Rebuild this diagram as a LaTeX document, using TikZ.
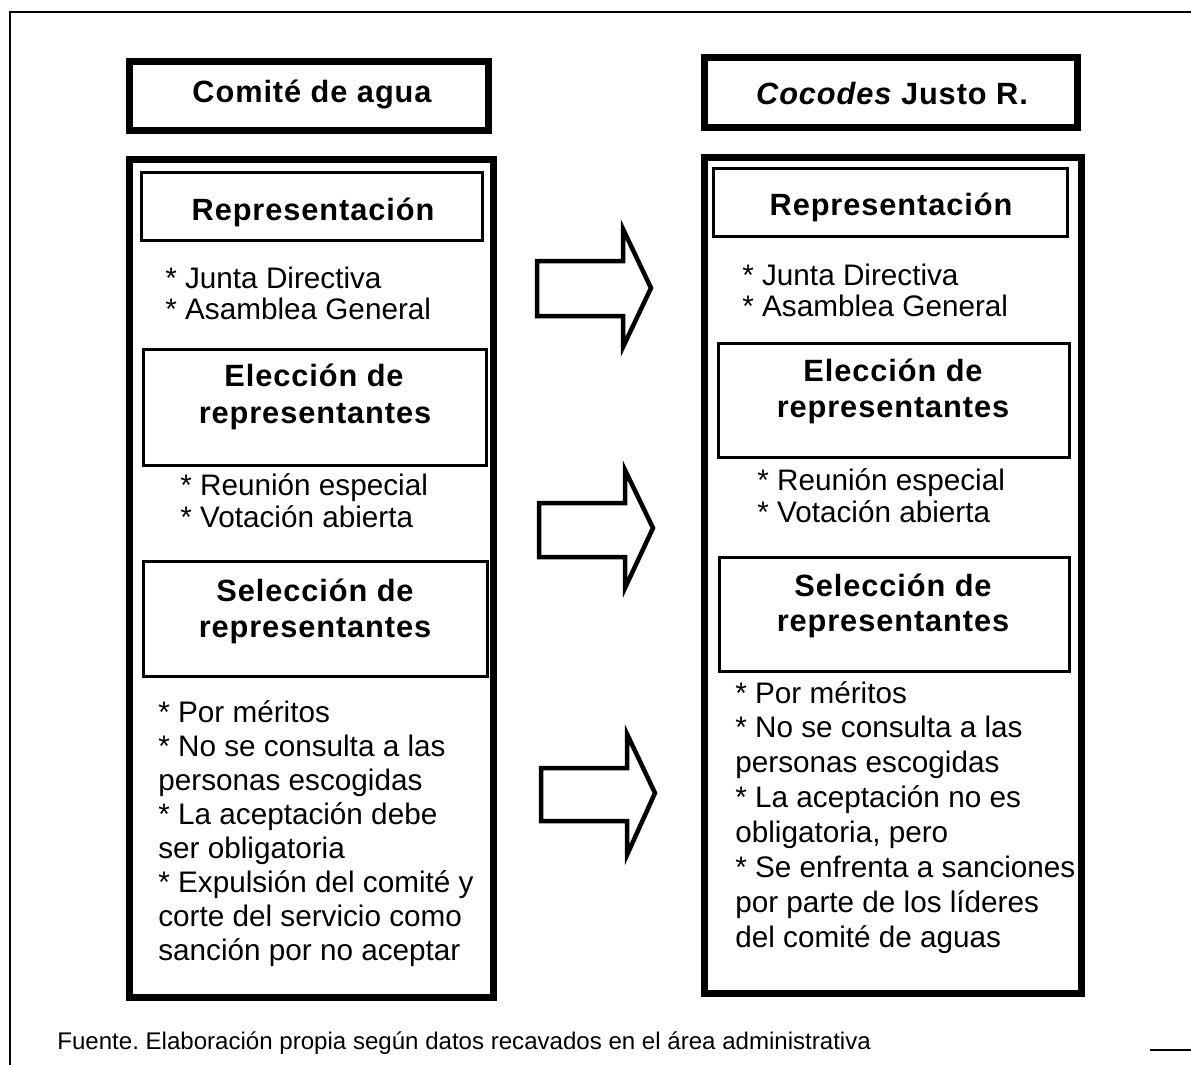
\documentclass[tikz,border=0pt]{standalone}
\usepackage{fontspec}
\setmainfont{Liberation Sans}
\newfontfamily\hdfont[LetterSpace=3]{Liberation Sans}
\frenchspacing
\begin{document}
\begin{tikzpicture}[x=0.02cm,y=-0.02cm,
  outerbox/.style={draw, line width=0.14cm, inner sep=0pt},
  innerbox/.style={draw, line width=0.06cm, inner sep=0pt},
  hd/.style={font=\hdfont\bfseries\fontsize{17.5}{20.5}\selectfont, anchor=base, inner sep=0pt},
  bd/.style={font=\fontsize{16.9}{19}\selectfont, anchor=base west, inner sep=0pt},
  ft/.style={font=\fontsize{13.7}{16}\selectfont, anchor=base west, inner sep=0pt},
  blockarrow/.style={draw, line width=0.09cm, line join=miter},
  frame/.style={draw, line width=0.05cm}]
\useasboundingbox (0,0) rectangle (1191,1065);
% outer frame
\coordinate (fa) at (10,1065);
\coordinate (fb) at (10,12);
\coordinate (fc) at (1191,12);
\draw[frame] (fa) -- (fb) -- (fc);
\coordinate (fd) at (1150,1050);
\coordinate (fe) at (1191,1050);
\draw[line width=0.03cm] (fd) -- (fe);
% titles
\node[outerbox, minimum width=7.2cm, minimum height=1.4cm] (ltitle) at (309,96) {};
\node[outerbox, minimum width=7.48cm, minimum height=1.42cm] (rtitle) at (891,92.5) {};
\node[hd] (ltitleT) at (312,102) {Comité de agua};
\node[hd] (rtitleT) at (892,104.5) {\itshape Cocodes\upshape{} Justo R.};
% big boxes
\node[outerbox, minimum width=7.3cm, minimum height=16.78cm] (lbig) at (311.5,578.5) {};
\node[outerbox, minimum width=7.56cm, minimum height=16.74cm] (rbig) at (893,575.5) {};
% inner boxes left
\node[innerbox, minimum width=6.84cm, minimum height=1.38cm] (lrep) at (312,206.5) {};
\node[innerbox, minimum width=6.88cm, minimum height=2.34cm] (lele) at (315,407.5) {};
\node[innerbox, minimum width=6.9cm, minimum height=2.32cm] (lsel) at (315.5,619) {};
% inner boxes right
\node[innerbox, minimum width=7.1cm, minimum height=1.38cm] (rrep) at (890.5,202.5) {};
\node[innerbox, minimum width=7.04cm, minimum height=2.3cm] (rele) at (894,400.5) {};
\node[innerbox, minimum width=7.02cm, minimum height=2.3cm] (rsel) at (894.5,614.5) {};
% headers
\node[hd] (lrepT) at (313,220) {Representación};
\node[hd] (rrepT) at (891,215) {Representación};
\node[hd] (leleT1) at (314,386.7) {Elección de};
\node[hd] (leleT2) at (315,423) {representantes};
\node[hd] (releT1) at (893,381) {Elección de};
\node[hd] (releT2) at (893,417) {representantes};
\node[hd] (lselT1) at (315,601.7) {Selección de};
\node[hd] (lselT2) at (315,637) {representantes};
\node[hd] (rselT1) at (893,596) {Selección de};
\node[hd] (rselT2) at (893,631) {representantes};
% pairs
\node[bd] (lp1) at (165,288) {* Junta Directiva};
\node[bd] (lp2) at (165,319) {* Asamblea General};
\node[bd] (lp3) at (180,495) {* Reunión especial};
\node[bd] (lp4) at (180,527) {* Votación abierta};
\node[bd] (rp1) at (742,285) {* Junta Directiva};
\node[bd] (rp2) at (742,316) {* Asamblea General};
\node[bd] (rp3) at (757,490) {* Reunión especial};
\node[bd] (rp4) at (757,522) {* Votación abierta};
% lists
\foreach \t [count=\i from 0] in {{* Por méritos},{* No se consulta a las},{personas escogidas},{* La aceptación debe},{ser obligatoria},{* Expulsión del comité y},{corte del servicio como},{sanción por no aceptar}}
  \node[bd] (ll\i) at (158,{722+34.1*\i}) {\t};
\foreach \t [count=\i from 0] in {{* Por méritos},{* No se consulta a las},{personas escogidas},{* La aceptación no es},{obligatoria, pero},{* Se enfrenta a sanciones},{por parte de los líderes},{del comité de aguas}}
  \node[bd] (rl\i) at (735,{703+34.9*\i}) {\t};
% block arrows
\draw[blockarrow] (537,261) -- (623,261) -- (623,229) -- (651,288) -- (623,347) -- (623,316) -- (537,316) -- cycle;
\draw[blockarrow] (539,503) -- (625,503) -- (625,470) -- (653,528) -- (625,588) -- (625,557) -- (539,557) -- cycle;
\draw[blockarrow] (541,768) -- (627,768) -- (627,734) -- (655,793) -- (627,855) -- (627,821) -- (541,821) -- cycle;
% footer
\node[ft] (foot) at (57,1049) {Fuente. Elaboración propia según datos recavados en el área administrativa};
\end{tikzpicture}
\end{document}
